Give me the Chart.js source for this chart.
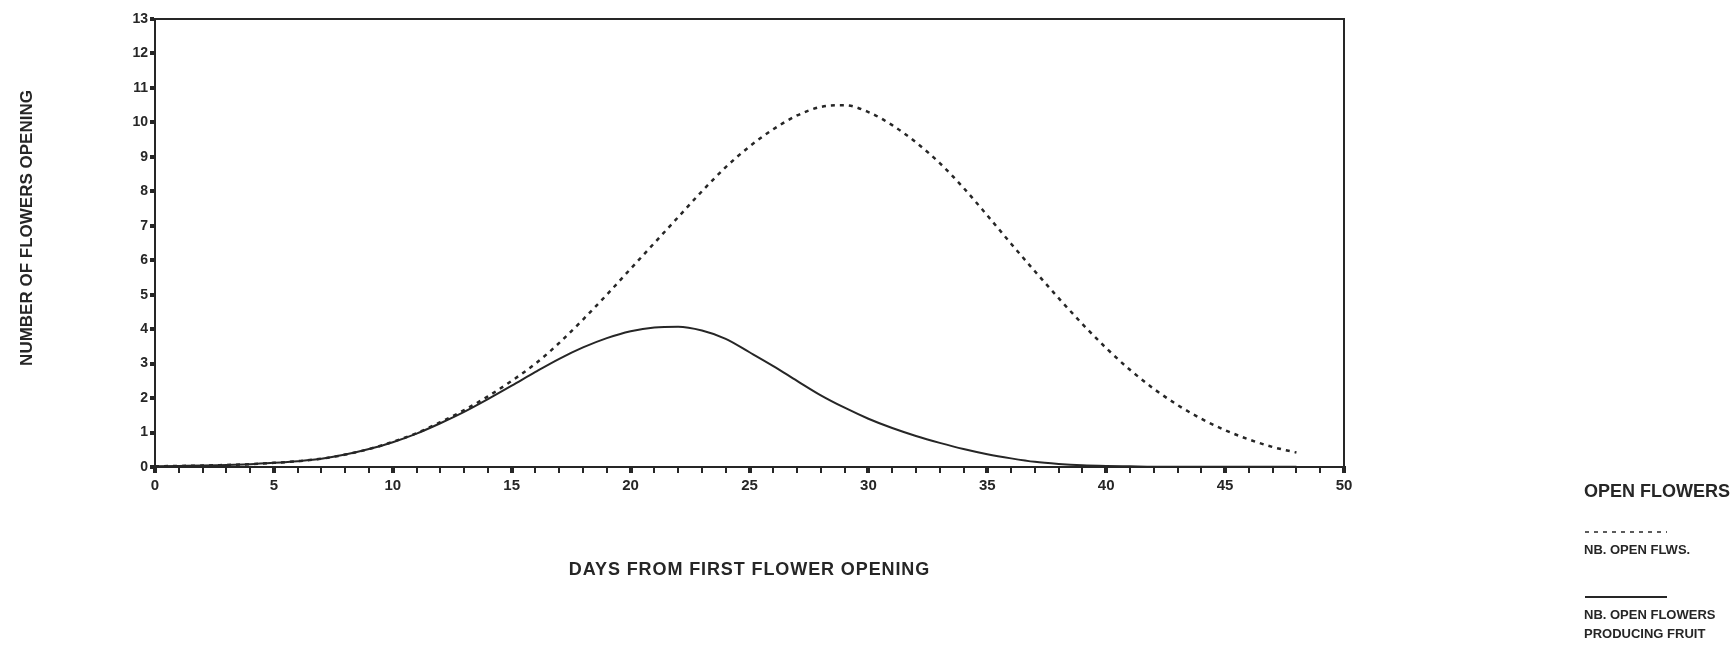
<!DOCTYPE html>
<html>
<head>
<meta charset="utf-8">
<script src="https://cdn.jsdelivr.net/npm/chart.js@4/dist/chart.umd.min.js"></script>
<style>
  html, body { margin: 0; padding: 0; background: #fff; }
  #wrap { width: 1730px; height: 646px; position: relative; }
</style>
</head>
<body>
<div id="wrap"><canvas id="flowerChart"></canvas></div>
<script>
// days after the first flower opened
const days = [0, 1, 2, 3, 4, 5, 6, 7, 8, 9, 10, 11, 12, 13, 14, 15, 16, 17, 18, 19, 20,
  21, 22, 23, 24, 25, 26, 27, 28, 29, 30, 31, 32, 33, 34, 35, 36, 37, 38, 39, 40,
  41, 42, 43, 44, 45, 46, 47, 48];

// NB. OPEN FLWS. (dashed)
const openFlowers = [0.02, 0.03, 0.04, 0.06, 0.08, 0.12, 0.17, 0.24, 0.36, 0.52, 0.73,
  0.98, 1.3, 1.65, 2.05, 2.5, 3.0, 3.6, 4.28, 5.0, 5.75,
  6.5, 7.25, 8.0, 8.7, 9.3, 9.8, 10.2, 10.45, 10.5, 10.3,
  9.92, 9.42, 8.82, 8.1, 7.3, 6.48, 5.68, 4.9, 4.15, 3.45,
  2.82, 2.27, 1.8, 1.4, 1.07, 0.8, 0.58, 0.42];

// NB. OPEN FLOWERS PRODUCING FRUIT (solid)
const fruitFlowers = [0.02, 0.03, 0.04, 0.06, 0.08, 0.12, 0.17, 0.24, 0.36, 0.52, 0.72,
  0.97, 1.27, 1.6, 1.97, 2.36, 2.76, 3.14, 3.47, 3.74, 3.94,
  4.05, 4.07, 3.96, 3.72, 3.33, 2.93, 2.5, 2.08, 1.72, 1.4,
  1.13, 0.9, 0.7, 0.52, 0.37, 0.25, 0.15, 0.09, 0.05, 0.03,
  0.02, 0.01, 0.01, 0.01, 0.01, 0.01, 0.01, 0.01];

const xTitle = 'DAYS FROM FIRST FLOWER OPENING';
const yTitle = 'NUMBER OF FLOWERS OPENING';
const legendTitle = 'OPEN FLOWERS';
const legendItems = [
  { lines: ['NB. OPEN FLWS.'], dash: [4, 5] },
  { lines: ['NB. OPEN FLOWERS', 'PRODUCING FRUIT'], dash: [] }
];

const ink = '#262626';
const fontFamily = "'Liberation Sans', Arial, Helvetica, sans-serif";

// 图框、坐标轴标题和图例
const decorPlugin = {
  id: 'decor',
  afterDraw(chart) {
    const ctx = chart.ctx;
    const a = chart.chartArea;
    ctx.save();
    ctx.strokeStyle = ink;
    ctx.lineWidth = 2;
    ctx.strokeRect(a.left, a.top, a.right - a.left, a.bottom - a.top);

    ctx.fillStyle = ink;
    ctx.textAlign = 'center';
    ctx.textBaseline = 'middle';
    ctx.font = 'bold 18px ' + fontFamily;
    ctx.letterSpacing = '0.9px';
    ctx.fillText(xTitle, (a.left + a.right) / 2, 570);
    ctx.letterSpacing = '0px';

    ctx.save();
    ctx.translate(27, 228);
    ctx.rotate(-Math.PI / 2);
    ctx.font = 'bold 17px ' + fontFamily;
    ctx.fillText(yTitle, 0, 0);
    ctx.restore();

    // legend
    const lx = 1584;
    ctx.textAlign = 'left';
    ctx.font = 'bold 18px ' + fontFamily;
    ctx.fillText(legendTitle, lx, 492);

    const ys = [532, 597];
    ctx.font = 'bold 13px ' + fontFamily;
    legendItems.forEach((item, i) => {
      ctx.beginPath();
      ctx.setLineDash(item.dash);
      ctx.lineWidth = item.dash.length ? 1.5 : 2;
      ctx.moveTo(lx + 1, ys[i]);
      ctx.lineTo(1667, ys[i]);
      ctx.stroke();
      ctx.setLineDash([]);
      item.lines.forEach((t, j) => {
        ctx.fillText(t, lx, ys[i] + 18 + j * 19);
      });
    });
    ctx.restore();
  }
};

const ctx = document.getElementById('flowerChart').getContext('2d');
const flowerChart = new Chart(ctx, {
  type: 'line',
  data: {
    datasets: [
      {
        label: 'NB. OPEN FLWS.',
        data: days.map((d, i) => ({ x: d, y: openFlowers[i] })),
        borderColor: ink,
        borderWidth: 2.5,
        borderDash: [4, 5],
        pointRadius: 0,
        cubicInterpolationMode: 'monotone',
        fill: false
      },
      {
        label: 'NB. OPEN FLOWERS PRODUCING FRUIT',
        data: days.map((d, i) => ({ x: d, y: fruitFlowers[i] })),
        borderColor: ink,
        borderWidth: 2,
        pointRadius: 0,
        cubicInterpolationMode: 'monotone',
        fill: false
      }
    ]
  },
  options: {
    responsive: true,
    maintainAspectRatio: false,
    animation: false,
    layout: { padding: { left: 100, right: 386, top: 19, bottom: 149 } },
    plugins: {
      legend: { display: false },
      tooltip: { enabled: false }
    },
    scales: {
      x: {
        type: 'linear',
        min: 0,
        max: 50,
        afterFit(scale) { scale.height = 30; },
        border: { display: true, color: ink, width: 2 },
        grid: {
          drawOnChartArea: false,
          drawTicks: true,
          tickLength: 6,
          color: ink,
          lineWidth: c => (c.tick && c.tick.value % 5 === 0 ? 4 : 2)
        },
        ticks: {
          stepSize: 1,
          autoSkip: false,
          maxRotation: 0,
          padding: 4,
          color: ink,
          font: { family: fontFamily, size: 15, weight: 'bold' },
          callback: v => (v % 5 === 0 ? v : '')
        }
      },
      y: {
        min: 0,
        max: 13,
        afterFit(scale) { scale.width = 55; },
        border: { display: true, color: ink, width: 2 },
        grid: {
          drawOnChartArea: false,
          drawTicks: true,
          tickLength: 5,
          color: ink,
          lineWidth: 4
        },
        ticks: {
          stepSize: 1,
          padding: 2,
          color: ink,
          font: { family: fontFamily, size: 14, weight: 'bold' }
        }
      }
    }
  },
  plugins: [decorPlugin]
});
</script>
</body>
</html>
